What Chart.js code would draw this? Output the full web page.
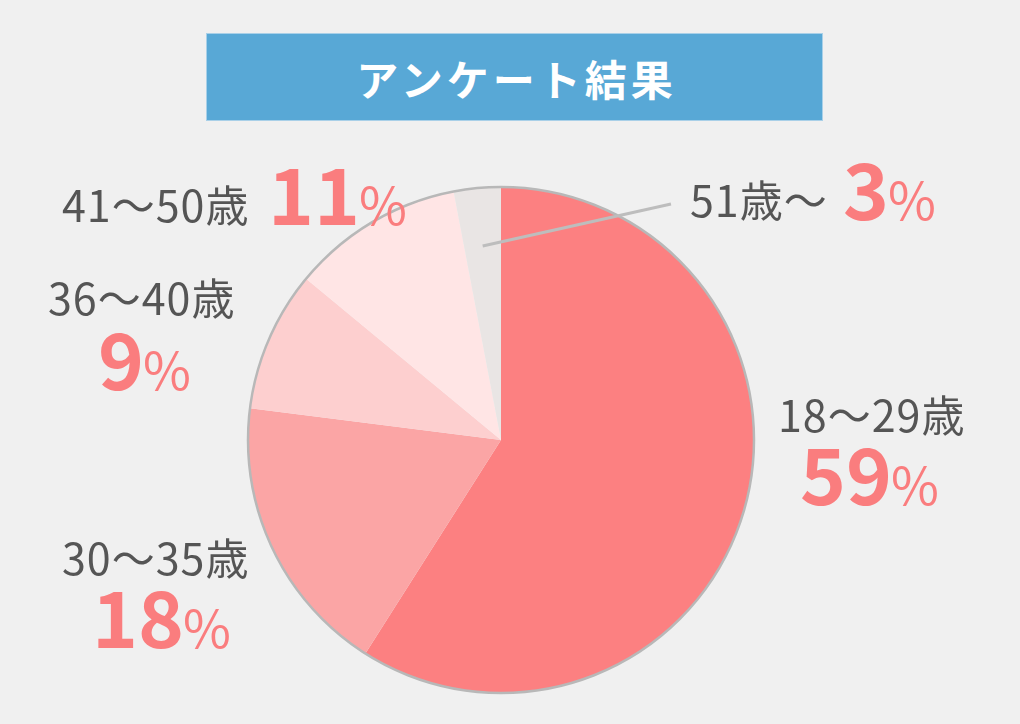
<!DOCTYPE html>
<html>
<head>
<meta charset="utf-8">
<script src="https://cdn.jsdelivr.net/npm/chart.js@4"></script>
<style>
  html, body { margin: 0; padding: 0; background: #f0f0f0; }
  #wrap { position: relative; width: 1020px; height: 724px; }
  #title {
    position: absolute; left: 206px; top: 33px; width: 617px; height: 88px;
    background: #58a8d6; color: #fff; border: 1px solid #a9d0e8; box-sizing: border-box;
    font: bold 42px "Noto Sans CJK JP", sans-serif; letter-spacing: 4px; padding-left: 4px;
    display: flex; align-items: center; justify-content: center;
  }
  canvas { position: absolute; left: 0; top: 0; }
</style>
</head>
<body>
<div id="wrap">
  <canvas id="pie" width="1020" height="724"></canvas>
  <div id="title">アンケート結果</div>
</div>
<script>
const labels = ['18～29歳', '30～35歳', '36～40歳', '41～50歳', '51歳～'];
const values = [59, 18, 9, 11, 3];
const colors = ['#fc8081', '#fba5a5', '#fdcfcf', '#ffe5e5', '#e9e5e4'];

// where each label group sits (age line + big number)
const labelPos = [
  { ax: 778, ay: 432, nx: 800, ny: 505 },
  { ax: 62, ay: 575, nx: 92, ny: 648 },
  { ax: 48, ay: 315, nx: 98, ny: 390 },
  { ax: 62, ay: 222, nx: 268, ny: 225 },
  { ax: 690, ay: 217, nx: 843, ny: 220 }
];

const FONT = '"Noto Sans CJK JP", "Noto Sans", sans-serif';

const outline = {
  id: 'outline',
  afterDatasetsDraw(chart) {
    const arc = chart.getDatasetMeta(0).data[0];
    const ctx = chart.ctx;
    ctx.save();
    ctx.beginPath();
    ctx.arc(arc.x, arc.y, arc.outerRadius, 0, Math.PI * 2);
    ctx.strokeStyle = '#b8b8b8';
    ctx.lineWidth = 2.5;
    ctx.stroke();

    // leader line for the small last slice
    const last = chart.getDatasetMeta(0).data[values.length - 1];
    const mid = (last.startAngle + last.endAngle) / 2;
    const r = last.outerRadius * 0.77;
    ctx.beginPath();
    ctx.moveTo(last.x + Math.cos(mid) * r, last.y + Math.sin(mid) * r);
    ctx.lineTo(671, 204);
    ctx.strokeStyle = '#bdbdbd';
    ctx.lineWidth = 3;
    ctx.stroke();
    ctx.restore();
  }
};

const sliceLabels = {
  id: 'sliceLabels',
  afterDraw(chart) {
    const ctx = chart.ctx;
    ctx.save();
    ctx.textAlign = 'left';
    ctx.textBaseline = 'alphabetic';
    labels.forEach((lab, i) => {
      const p = labelPos[i];
      ctx.fillStyle = '#555555';
      ctx.font = '43px ' + FONT;
      ctx.letterSpacing = '1px';
      ctx.fillText(lab, p.ax, p.ay);
      ctx.letterSpacing = '0px';
      const num = String(values[i]);
      ctx.fillStyle = '#fa7d7e';
      ctx.font = 'bold 78px ' + FONT;
      ctx.fillText(num, p.nx, p.ny);
      const w = ctx.measureText(num).width;
      ctx.font = '52px ' + FONT;
      ctx.fillText('%', p.nx + w - 1, p.ny);
    });
    ctx.restore();
  }
};

new Chart(document.getElementById('pie').getContext('2d'), {
  type: 'pie',
  data: { labels: labels, datasets: [{ data: values, backgroundColor: colors, borderWidth: 0 }] },
  options: {
    responsive: false,
    animation: false,
    layout: { padding: { top: 187, bottom: 31, left: 248, right: 266 } },
    plugins: { legend: { display: false }, tooltip: { enabled: false } }
  },
  plugins: [outline, sliceLabels]
});
</script>
</body>
</html>
